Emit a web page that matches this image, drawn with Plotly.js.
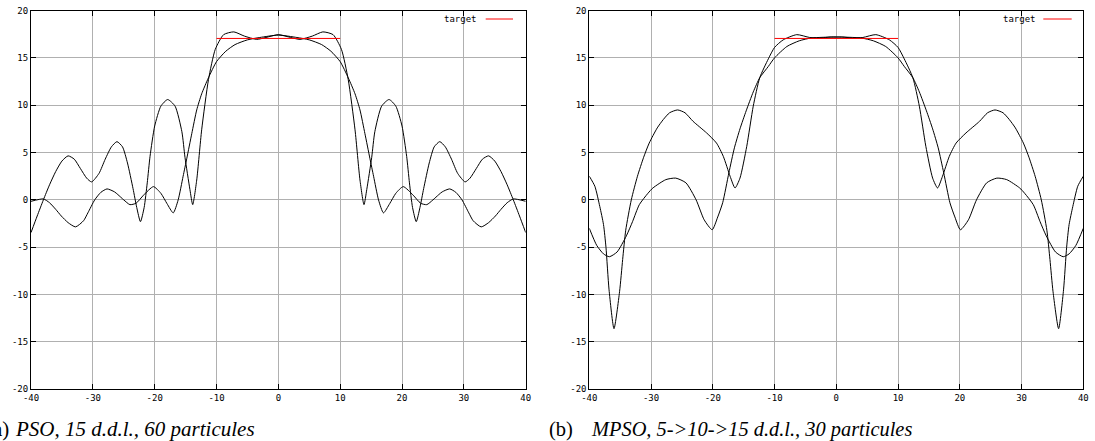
<!DOCTYPE html>
<html><head><meta charset="utf-8">
<script src="https://cdn.plot.ly/plotly-3.0.1.min.js"></script>
<style>html,body{margin:0;padding:0;background:#fff;overflow:hidden} #chart{width:1095px;height:441px;}</style>
</head><body><div id="chart"></div>
<script>
// ---- data (angle in degrees, gain in dB) ----
// (a) PSO, 15 d.d.l., 60 particules
const psoCurveAX = [-40,-39,-38,-37,-36,-35,-34,-33,-32,-31,-30.2,-29,-28,-27,-26.1,-25.2,-24.4,-23.5,-22.9,-22.3,-21.7,-21.2,-20.75,-20,-19,-17.9,-16.7,-15.6,-15.1,-14.3,-13.85,-13.2,-12.4,-11.3,-10.2,-8.85,-7.2,-5.5,-3.5,-2,0,
  2,3.5,5.5,7.2,8.85,10.2,11.3,12.4,13.2,13.85,14.3,15.1,15.6,16.7,17.9,19,20,20.75,21.2,21.7,22.3,22.9,23.5,24.4,25.2,26.1,27,28,29,30.2,31,32,33,34,35,36,37,38,39,40];
const psoCurveAY = [-3.45,-1.7,0.0,1.6,3.0,4.1,4.65,4.3,3.3,2.3,1.9,2.8,4.3,5.6,6.15,5.6,3.9,1.2,-0.8,-2.3,-0.8,1.8,4.6,7.8,9.9,10.6,9.9,7.2,4.5,1.1,-0.5,2.1,7.4,12.7,15.9,17.45,17.74,17.3,16.95,17.15,17.45,
  17.15,16.95,17.3,17.74,17.45,15.9,12.7,7.4,2.1,-0.5,1.1,4.5,7.2,9.9,10.6,9.9,7.8,4.6,1.8,-0.8,-2.3,-0.8,1.2,3.9,5.6,6.15,5.6,4.3,2.8,1.9,2.3,3.3,4.3,4.65,4.1,3.0,1.6,0.0,-1.7,-3.45];
const psoCurveBX = [-40,-38,-37,-36,-35.1,-34,-32.8,-31.5,-30.8,-29.7,-28.7,-27.7,-26.5,-25.95,-25,-24,-23,-21.8,-20.2,-19,-18,-17,-16.2,-15.4,-14.8,-14,-13.2,-12.4,-11.3,-10,-8.5,-7,-5,-3,0,
  3,5,7,8.5,10,11.3,12.4,13.2,14,14.8,15.4,16.2,17,18,19,20.2,21.8,23,24,25,25.95,26.5,27.7,28.7,29.7,30.8,31.5,32.8,34,35.1,36,37,38,40];
const psoCurveBY = [-0.15,0.1,-0.3,-1.0,-1.7,-2.4,-2.85,-2.2,-1.37,0,0.8,1.16,0.85,0.56,0.0,-0.5,-0.35,0.5,1.4,0.7,-0.4,-1.37,0,2.5,4.4,7.0,9.5,11.2,12.9,14.6,15.7,16.4,16.9,17.15,17.4,
  17.15,16.9,16.4,15.7,14.6,12.9,11.2,9.5,7.0,4.4,2.5,0,-1.37,-0.4,0.7,1.4,0.5,-0.35,-0.5,0.0,0.56,0.85,1.16,0.8,0,-1.37,-2.2,-2.85,-2.4,-1.7,-1.0,-0.3,0.1,-0.15];

// (b) MPSO, 5->10->15 d.d.l., 30 particules
const mpsoCurveCX = [-40,-39.1,-38.3,-37.7,-37.3,-36.8,-36,-35.1,-34.6,-34.1,-33.2,-32.2,-31.2,-30.3,-29,-28,-27,-25.7,-24.5,-23.2,-21,-19.4,-18.3,-17.2,-16.4,-15.6,-14.5,-13.45,-12.4,-11,-10,-8.6,-6.4,-4.3,-2.5,-1,0,
  1,2.5,4.3,6.4,8.6,10,11,12.4,13.45,14.5,15.6,16.4,17.2,18.3,19.4,21,23.2,24.5,25.7,27,28,29,30.3,31.2,32.2,33.2,34.1,34.6,35.1,36,36.8,37.3,37.7,38.3,39.1,40];
const mpsoCurveCY = [2.5,1.44,-0.7,-2.6,-5.0,-9.5,-13.6,-9.7,-6.3,-3.2,0,2.5,4.5,6.0,7.6,8.5,9.2,9.5,9.2,8.3,7.07,6.0,4.6,2.5,1.26,2.3,5.66,9.9,12.9,14.9,16.1,16.9,17.45,17.15,17.1,17.2,17.2,
  17.2,17.1,17.15,17.45,16.9,16.1,14.9,12.9,9.9,5.66,2.3,1.26,2.5,4.6,6.0,7.07,8.3,9.2,9.5,9.2,8.5,7.6,6.0,4.5,2.5,0,-3.2,-6.3,-9.7,-13.6,-9.5,-5.0,-2.6,-0.7,1.44,2.5];
const mpsoCurveDX = [-40,-38.8,-37.7,-36.75,-35.5,-34,-33,-31.9,-30.5,-29.7,-27.6,-26,-24.35,-22.7,-21.4,-20.1,-19.2,-18.4,-17.4,-16.5,-15.6,-14.6,-13.45,-12.4,-11,-10,-8,-6,-4,0,
  4,6,8,10,11,12.4,13.45,14.6,15.6,16.5,17.4,18.4,19.2,20.1,21.4,22.7,24.35,26,27.6,29.7,30.5,31.9,33,34,35.5,36.75,37.7,38.8,40];
const mpsoCurveDY = [-3.0,-4.8,-5.7,-6.0,-5.5,-3.8,-2.3,-0.5,0.7,1.26,2.14,2.3,1.8,0,-2.1,-3.15,-1.8,-0.3,2.85,5.5,7.5,9.4,11.4,12.9,14.1,15.0,16.2,16.8,17.1,17.2,
  17.1,16.8,16.2,15.0,14.1,12.9,11.4,9.4,7.5,5.5,2.85,-0.3,-1.8,-3.15,-2.1,0,1.8,2.3,2.14,1.26,0.7,-0.5,-2.3,-3.8,-5.5,-6.0,-5.7,-4.8,-3.0];

// target template
const targetX = [-10, 10];
const targetY = [17.05, 17.05];

// tick labels
const xTickVals = [-40,-30,-20,-10,0,10,20,30,40];
const xTickText = ['-40','-30','-20','-10','0','10','20','30','40'];
const yTickVals = [-20,-15,-10,-5,0,5,10,15,20];
const yTickText = ['-20','-15','-10','-5','0','5','10','15','20'];

const legendLabel = 'target';
const captionA = ['(a)', 'PSO, 15 d.d.l., 60 particules'];
const captionB = ['(b)', 'MPSO, 5-&gt;10-&gt;15 d.d.l., 30 particules'];

// ---- figure ----
const W = 1095, H = 441;
const px = v => v / W;
const py = v => (H - v) / H;

const curveLine = {color: '#000', width: 1, shape: 'spline', smoothing: 0.6};
const targetLine = {color: '#ff0000', width: 1};

const traces = [
  {x: psoCurveAX, y: psoCurveAY, xaxis: 'x', yaxis: 'y', mode: 'lines', line: curveLine, hoverinfo: 'skip'},
  {x: psoCurveBX, y: psoCurveBY, xaxis: 'x', yaxis: 'y', mode: 'lines', line: curveLine, hoverinfo: 'skip'},
  {x: targetX, y: targetY, xaxis: 'x', yaxis: 'y', mode: 'lines', line: targetLine, name: legendLabel},
  {x: mpsoCurveCX, y: mpsoCurveCY, xaxis: 'x2', yaxis: 'y2', mode: 'lines', line: curveLine, hoverinfo: 'skip'},
  {x: mpsoCurveDX, y: mpsoCurveDY, xaxis: 'x2', yaxis: 'y2', mode: 'lines', line: curveLine, hoverinfo: 'skip'},
  {x: targetX, y: targetY, xaxis: 'x2', yaxis: 'y2', mode: 'lines', line: targetLine, name: legendLabel}
];

const tickFont = {family: 'DejaVu Sans Mono, monospace', size: 9, color: '#000'};
function xAx(domain, anchor) {
  return {domain: domain, anchor: anchor, range: [-40, 40], tickmode: 'array', tickvals: xTickVals, ticktext: xTickText,
    showgrid: true, gridcolor: '#b0b0b0', gridwidth: 1, zeroline: false,
    showline: true, linecolor: '#000', linewidth: 1, mirror: 'ticks',
    ticks: 'inside', ticklen: 5, tickcolor: '#000', tickwidth: 1, tickfont: tickFont, fixedrange: true};
}
function yAx(anchor) {
  return {domain: [py(389.3), py(10.5)], anchor: anchor, range: [-20, 20], tickmode: 'array', tickvals: yTickVals, ticktext: yTickText,
    showgrid: true, gridcolor: '#b0b0b0', gridwidth: 1, zeroline: false,
    showline: true, linecolor: '#000', linewidth: 1, mirror: 'ticks',
    ticks: 'inside', ticklen: 5, tickcolor: '#000', tickwidth: 1, tickfont: tickFont, fixedrange: true};
}

const serif = 'Liberation Serif, Times New Roman, serif';
const capY = py(429);
const annotations = [
  {xref: 'paper', yref: 'paper', x: px(479), y: py(19), xanchor: 'right', yanchor: 'middle', text: legendLabel, showarrow: false, font: tickFont},
  {xref: 'paper', yref: 'paper', x: px(1037.5), y: py(19), xanchor: 'right', yanchor: 'middle', text: legendLabel, showarrow: false, font: tickFont},
  {xref: 'paper', yref: 'paper', x: px(11), y: capY, xanchor: 'right', yanchor: 'middle', text: captionA[0], showarrow: false, font: {family: serif, size: 21, color: '#000'}},
  {xref: 'paper', yref: 'paper', x: px(13), y: capY, xanchor: 'left', yanchor: 'middle', text: '<i>' + captionA[1] + '</i>', showarrow: false, font: {family: serif, size: 21, color: '#000'}},
  {xref: 'paper', yref: 'paper', x: px(547), y: capY, xanchor: 'left', yanchor: 'middle', text: captionB[0], showarrow: false, font: {family: serif, size: 20.5, color: '#000'}},
  {xref: 'paper', yref: 'paper', x: px(589), y: capY, xanchor: 'left', yanchor: 'middle', text: '<i>' + captionB[1] + '</i>', showarrow: false, font: {family: serif, size: 20.4, color: '#000'}}
];

const shapes = [
  {type: 'line', xref: 'paper', yref: 'paper', x0: px(485.7), x1: px(513), y0: py(19), y1: py(19), line: {color: '#ff0000', width: 1}},
  {type: 'line', xref: 'paper', yref: 'paper', x0: px(1043.3), x1: px(1071.7), y0: py(19), y1: py(19), line: {color: '#ff0000', width: 1}}
];

const layout = {
  width: W, height: H, autosize: false,
  margin: {l: 0, r: 0, t: 0, b: 0, pad: 0},
  paper_bgcolor: '#fff', plot_bgcolor: '#fff',
  showlegend: false,
  xaxis: xAx([px(31), px(525.7)], 'y'),
  yaxis: yAx('x'),
  xaxis2: xAx([px(589.3), px(1083.3)], 'y2'),
  yaxis2: yAx('x2'),
  annotations: annotations,
  shapes: shapes
};

Plotly.newPlot('chart', traces, layout, {staticPlot: true, displayModeBar: false});
</script></body></html>
